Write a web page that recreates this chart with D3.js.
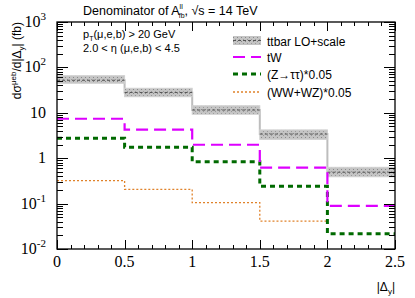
<!DOCTYPE html>
<html>
<head>
<meta charset="utf-8">
<script src="https://cdn.jsdelivr.net/npm/d3@7"></script>
<style>
  body { margin: 0; background: #fff; }
  text { font-family: "Liberation Sans", Arial, sans-serif; }
  .tick-label { font-family: "Liberation Serif", "Times New Roman", serif; font-size: 16px; }
</style>
</head>
<body>
<svg id="chart" width="415" height="298"></svg>
<script>
// bin edges in |Delta_y|
const binEdges = [0, 0.5, 1, 1.5, 2, 2.5];
// ttbar LO central value and scale band
const ttbar = [52, 28, 11.5, 3.4, 0.49];
const ttbarLo = [44.7, 22.6, 9.3, 2.6, 0.39];
const ttbarHi = [65.6, 34.7, 14.3, 4.2, 0.63];
// backgrounds
const tW = [7.4, 4.25, 1.98, 0.62, 0.089];
const zTauTau = [2.74, 1.74, 0.84, 0.24, 0.0217];
const wwWz = [0.32, 0.206, 0.105, 0.041, null];

const xTicks = [0, 0.5, 1, 1.5, 2, 2.5];
const xTickLabels = ['0', '0.5', '1', '1.5', '2', '2.5'];
const yDecades = [1e-2, 1e-1, 1, 10, 1e2, 1e3];
const yTickLabels = [['10', '-2'], ['10', '-1'], ['1', ''], ['10', ''], ['10', '2'], ['10', '3']];

const pL = 57, pR = 395, pT = 22, pB = 249;
const svg = d3.select('#chart');

const x = d3.scaleLinear().domain([0, 2.5]).range([pL, pR]);
const y = d3.scaleLog().domain([1e-2, 1e3]).range([pB, pT]);

// hatch pattern for the scale band
const defs = svg.append('defs');
const pat = defs.append('pattern')
  .attr('id', 'hatch')
  .attr('patternUnits', 'userSpaceOnUse')
  .attr('width', 4).attr('height', 4);
pat.append('rect').attr('width', 4).attr('height', 4).attr('fill', '#c4c4c4');
pat.append('rect').attr('x', 1).attr('y', 1).attr('width', 1).attr('height', 1).attr('fill', '#8a8a8a');
pat.append('rect').attr('x', 3).attr('y', 3).attr('width', 1).attr('height', 1).attr('fill', '#9a9a9a');

function stepPoints(vals) {
  const pts = [];
  vals.forEach((v, i) => {
    pts.push([binEdges[i], v]);
    pts.push([binEdges[i + 1], v]);
  });
  return pts;
}

const line = d3.line()
  .defined(d => d[1] != null && d[1] > 0)
  .x(d => x(d[0]))
  .y(d => y(d[1]));

const plot = svg.append('g');

// ttbar connector step in light grey
plot.append('path')
  .attr('d', line(stepPoints(ttbar)))
  .attr('fill', 'none')
  .attr('stroke', '#bdbdbd')
  .attr('stroke-width', 2);

// band
plot.selectAll('rect.band')
  .data(ttbar)
  .enter()
  .append('rect')
  .attr('class', 'band')
  .attr('x', (d, i) => x(binEdges[i]))
  .attr('width', (d, i) => x(binEdges[i + 1]) - x(binEdges[i]))
  .attr('y', (d, i) => y(ttbarHi[i]))
  .attr('height', (d, i) => y(ttbarLo[i]) - y(ttbarHi[i]))
  .attr('fill', 'url(#hatch)')
  .attr('stroke', '#d0d0d0')
  .attr('stroke-width', 1);

// central ttbar line
plot.selectAll('line.central')
  .data(ttbar)
  .enter()
  .append('line')
  .attr('class', 'central')
  .attr('x1', (d, i) => x(binEdges[i]))
  .attr('x2', (d, i) => x(binEdges[i + 1]))
  .attr('y1', d => y(d))
  .attr('y2', d => y(d))
  .attr('stroke', '#555')
  .attr('stroke-width', 1)
  .attr('stroke-dasharray', '3,2');

const series = [
  { vals: wwWz, color: '#e0822a', width: 1.3, dash: '2,2' },
  { vals: zTauTau, color: '#006a00', width: 3, dash: '5,4' },
  { vals: tW, color: '#dd00ff', width: 2.2, dash: '12,6' }
];

series.forEach(s => {
  plot.append('path')
    .attr('d', line(stepPoints(s.vals)))
    .attr('fill', 'none')
    .attr('stroke', s.color)
    .attr('stroke-width', s.width)
    .attr('stroke-dasharray', s.dash);
});

// frame
const axes = svg.append('g').attr('stroke', '#000').attr('stroke-width', 1);
axes.append('rect')
  .attr('x', pL).attr('y', pT)
  .attr('width', pR - pL).attr('height', pB - pT)
  .attr('fill', 'none').attr('stroke-width', 1.3);

// y ticks: major at decades, minor at 2..9
const yAll = y.ticks();
yAll.forEach(v => {
  const major = Math.abs(Math.log10(v) - Math.round(Math.log10(v))) < 1e-9;
  const len = major ? 11 : 6;
  const yy = Math.round(y(v)) + 0.5;
  axes.append('line').attr('x1', pL).attr('x2', pL + len).attr('y1', yy).attr('y2', yy);
  axes.append('line').attr('x1', pR).attr('x2', pR - len).attr('y1', yy).attr('y2', yy);
});

// x ticks: major every 0.5, minor every 0.1
d3.range(0, 26).forEach(k => {
  const v = k / 10;
  const major = k % 5 === 0;
  const len = major ? 9 : 4;
  const xx = Math.round(x(v)) + 0.5;
  axes.append('line').attr('x1', xx).attr('x2', xx).attr('y1', pB).attr('y2', pB - len);
  axes.append('line').attr('x1', xx).attr('x2', xx).attr('y1', pT).attr('y2', pT + len);
});

// x tick labels
svg.selectAll('text.xl')
  .data(xTicks)
  .enter()
  .append('text')
  .attr('class', 'tick-label')
  .attr('x', d => x(d))
  .attr('y', 267)
  .attr('text-anchor', 'middle')
  .text((d, i) => xTickLabels[i]);

// y tick labels
yDecades.forEach((v, i) => {
  const t = svg.append('text')
    .attr('class', 'tick-label')
    .attr('x', 46)
    .attr('y', y(v) + 5)
    .attr('text-anchor', 'end');
  t.append('tspan').text(yTickLabels[i][0]);
  if (yTickLabels[i][1]) {
    t.append('tspan').attr('dy', -7).attr('font-size', 11).text(yTickLabels[i][1]);
  }
});

// title
const title = svg.append('text').attr('x', 83).attr('y', 15).attr('font-size', 12.5);
title.append('tspan').text('Denominator of A');
title.append('tspan').attr('font-size', 7).attr('dy', -6).text('ll');
title.append('tspan').attr('font-size', 7).attr('dx', -4).attr('dy', 9).text('fb');
title.append('tspan').attr('dy', -3).text(',  \u221As = 14 TeV');

// cuts
const c1 = svg.append('text').attr('x', 83).attr('y', 38).attr('font-size', 11);
c1.append('tspan').text('p');
c1.append('tspan').attr('font-size', 7).attr('dy', 3).text('T');
c1.append('tspan').attr('dy', -3).text('(\u03bc,e,b) > 20 GeV');
svg.append('text').attr('x', 83).attr('y', 52).attr('font-size', 11)
  .text('2.0 < \u03b7 (\u03bc,e,b) < 4.5');

// y axis title
const yt = svg.append('text')
  .attr('transform', 'translate(21,22) rotate(-90)')
  .attr('text-anchor', 'end')
  .attr('font-size', 12);
yt.append('tspan').text('d\u03c3');
yt.append('tspan').attr('font-size', 8).attr('dy', -5).text('\u03bceb');
yt.append('tspan').attr('dy', 5).text('/d|\u0394');
yt.append('tspan').attr('font-size', 8).attr('dy', 3).text('y');
yt.append('tspan').attr('dy', -3).text('| (fb)');

// x axis title
const xt = svg.append('text').attr('x', 395).attr('y', 291).attr('text-anchor', 'end').attr('font-size', 12);
xt.append('tspan').text('|\u0394');
xt.append('tspan').attr('font-size', 8).attr('dy', 3).text('y');
xt.append('tspan').attr('dy', -3).text('|');

// legend
const legendNames = ['ttbar LO+scale', 'tW', '(Z\u2192\u03c4\u03c4)*0.05', '(WW+WZ)*0.05'];
const legendY = [41, 57, 74, 92];
const lg = svg.append('g');
lg.append('rect').attr('x', 233).attr('y', 36).attr('width', 28).attr('height', 9)
  .attr('fill', 'url(#hatch)');
lg.append('line').attr('x1', 233).attr('x2', 261).attr('y1', 40.5).attr('y2', 40.5)
  .attr('stroke', '#555').attr('stroke-dasharray', '3,2');
const legendSeries = [series[2], series[1], series[0]];
legendSeries.forEach((s, i) => {
  lg.append('line')
    .attr('x1', 233).attr('x2', 261)
    .attr('y1', legendY[i + 1]).attr('y2', legendY[i + 1])
    .attr('stroke', s.color).attr('stroke-width', s.width)
    .attr('stroke-dasharray', s.dash);
});
lg.selectAll('text')
  .data(legendNames)
  .enter()
  .append('text')
  .attr('x', 267)
  .attr('y', (d, i) => legendY[i] + 4.5)
  .attr('font-size', 12)
  .text(d => d);
</script>
</body>
</html>
